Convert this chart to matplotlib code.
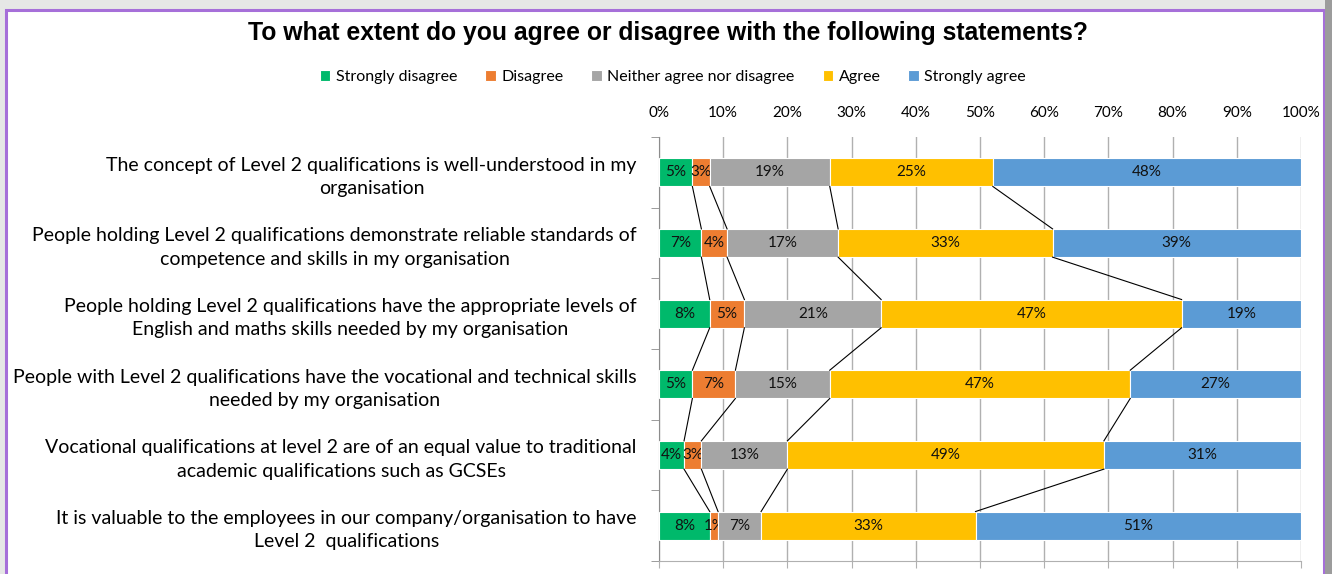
import matplotlib.pyplot as plt
from matplotlib.patches import Rectangle
import numpy as np

plt.rcParams['font.family'] = ['Lato', 'DejaVu Sans']

statements = [
    "The concept of Level 2 qualifications is well-understood in my\norganisation",
    "People holding Level 2 qualifications demonstrate reliable standards of\ncompetence and skills in my organisation",
    "People holding Level 2 qualifications have the appropriate levels of\nEnglish and maths skills needed by my organisation",
    "People with Level 2 qualifications have the vocational and technical skills\nneeded by my organisation",
    "Vocational qualifications at level 2 are of an equal value to traditional\nacademic qualifications such as GCSEs",
    "It is valuable to the employees in our company/organisation to have\nLevel 2  qualifications",
]
responses = ["Strongly disagree", "Disagree", "Neither agree nor disagree",
             "Agree", "Strongly agree"]

# share of answers (%) per statement, one list per response
strongly_disagree = [5.2, 6.6, 7.9, 5.2, 3.9, 7.9]
disagree = [2.7, 4.0, 5.4, 6.7, 2.7, 1.3]
neither = [18.7, 17.3, 21.3, 14.7, 13.4, 6.7]
agree = [25.4, 33.4, 46.8, 46.8, 49.3, 33.4]
strongly_agree = [48.0, 38.7, 18.6, 26.6, 30.7, 50.7]

colors = ['#00B96B', '#ED7D31', '#A5A5A5', '#FFC000', '#5B9BD5']
xticks = list(range(0, 101, 10))

W, H = 1332, 574
fig = plt.figure(figsize=(W / 100, H / 100), dpi=100)
fig.patch.set_facecolor('#e6e7e6')

# white panel with purple frame
fig.patches.append(Rectangle((5.5 / W, -0.05), 1318 / W, 1.05 - 9.5 / H,
                             transform=fig.transFigure, facecolor='white',
                             edgecolor='#a66fd9', lw=2.2, zorder=-2))
fig.patches.append(Rectangle((1325 / W, 0), 7 / W, 1, transform=fig.transFigure,
                             facecolor='#9c9c9c', edgecolor='none', zorder=-2))

ax = fig.add_axes([659 / W, 1 - 561 / H, 642 / W, 424 / H])
ax.set_facecolor('none')

series = [strongly_disagree, disagree, neither, agree, strongly_agree]
y = np.arange(len(statements))
bh = 0.4
left = np.zeros(len(statements))
edges = []
for name, vals, c in zip(responses, series, colors):
    vals = np.array(vals)
    bars = ax.barh(y, vals, left=left, height=bh, color=c, edgecolor='white',
                   lw=0.8, label=name, zorder=3)
    ax.bar_label(bars, labels=[f'{v:.0f}%' for v in vals], label_type='center',
                 fontsize=11, color='#111111')
    left = left + vals
    edges.append(left.copy())

# series lines joining segment boundaries of neighbouring bars
for b in edges[:-1]:
    for i in range(len(statements) - 1):
        ax.plot([b[i], b[i + 1]], [i + bh / 2, i + 1 - bh / 2], color='black',
                lw=0.8, zorder=4)

ax.set_xlim(0, 100)
ax.set_ylim(len(statements) - 0.5, -0.5)
ax.set_xticks(xticks)
ax.set_xticklabels([f'{t}%' for t in xticks])
ax.xaxis.grid(True, color='#b0b0b0', lw=1.0, zorder=0)
ax.tick_params(axis='x', top=False, bottom=True, labeltop=True, labelbottom=False,
               length=5, color='#b0b0b0', labelsize=11, pad=7)
ax.set_yticks(y)
ax.set_yticklabels(statements, fontsize=14, ha='right', multialignment='center',
                   linespacing=1.45)
ax.set_yticks(np.arange(len(statements) + 1) - 0.5, minor=True)
ax.tick_params(axis='y', which='major', length=0, pad=16)
ax.tick_params(axis='y', which='minor', length=6, color='#8c8c8c')
for s in ['top', 'right']:
    ax.spines[s].set_visible(False)
ax.spines['left'].set_color('#8c8c8c')
ax.spines['bottom'].set_color('#b0b0b0')

fig.text(668 / W, 1 - 33 / H,
         'To what extent do you agree or disagree with the following statements?',
         ha='center', va='center', fontsize=17.8, fontweight='bold',
         family='Liberation Sans')
ax.legend(loc='center', bbox_to_anchor=(673 / W, 1 - 77 / H),
          bbox_transform=fig.transFigure, ncol=5, frameon=False, fontsize=11.5,
          handlelength=0.65, handleheight=0.65, handletextpad=0.35,
          columnspacing=1.75)

fig.savefig('out.png', dpi=100, facecolor=fig.get_facecolor())
